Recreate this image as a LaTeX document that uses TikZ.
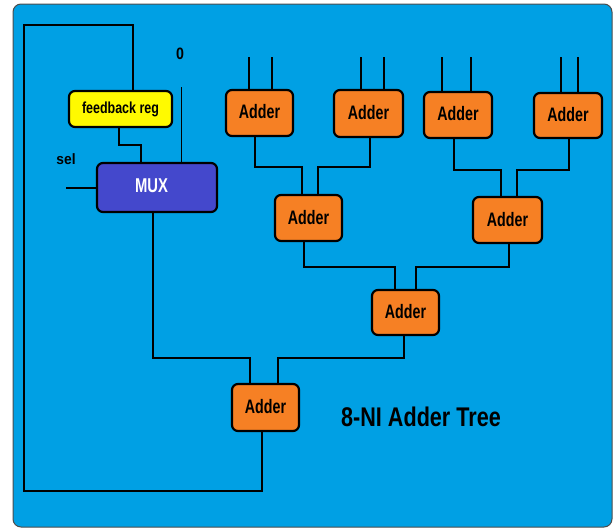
\documentclass[tikz,border=0pt]{standalone}
\usepackage{fontspec}
\setmainfont{Liberation Sans}
\usetikzlibrary{calc}
\definecolor{panelblue}{RGB}{0,160,228}
\definecolor{adderorange}{RGB}{246,128,36}
\definecolor{regyellow}{RGB}{255,250,0}
\definecolor{muxblue}{RGB}{68,72,204}
% condensed bold sans at a given size and horizontal stretch
\newcommand{\condfont}[2]{\fontsize{#1}{#1}\selectfont\bfseries\addfontfeatures{FakeStretch=#2}}
\begin{document}
\begin{tikzpicture}[x=1pt,y=-1pt,
  blk/.style={draw=black,line width=2.2pt,rounded corners=6pt,inner sep=0pt,outer sep=0pt},
  adder/.style={blk,fill=adderorange,minimum width=67pt,minimum height=46pt,font=\condfont{19.5}{0.73}},
  wire/.style={draw=black,line width=1.6pt},
  lbl/.style={inner sep=0pt}]
\useasboundingbox (0,0) rectangle (614,528);
% panel
\draw[fill=panelblue,draw=black!70,line width=1pt,rounded corners=8pt] (13,4) rectangle (612,527);

% blocks
\node[blk,fill=regyellow,minimum width=103pt,minimum height=36pt,font=\condfont{16}{0.78}] (fb) at (120.5,109) {feedback reg};
\node[blk,fill=muxblue,minimum width=120pt,minimum height=49pt] (mux) at (157,187.5) {};
\node[text=white,font=\condfont{20}{0.74},inner sep=0pt] (muxtext) at (151.5,185.5) {MUX};
\node[adder] (a1) at (259.5,113) {\raisebox{2.5pt}{Adder}};
\node[adder,minimum width=69pt,minimum height=47pt] (a2) at (368.5,113.5) {\raisebox{2.5pt}{Adder}};
\node[adder,minimum width=68pt] (a3) at (458,115) {\raisebox{2.5pt}{Adder}};
\node[adder,minimum width=68pt,minimum height=45pt] (a4) at (568,115.5) {\raisebox{2.5pt}{Adder}};
\node[adder] (b1) at (308.5,218) {\raisebox{1.5pt}{Adder}};
\node[adder,minimum width=69pt] (b2) at (507.5,220) {\raisebox{1.5pt}{Adder}};
\node[adder,minimum height=45pt] (c1) at (405.5,312.5) {\raisebox{1.5pt}{Adder}};
\node[adder,minimum height=47pt] (d1) at (265.5,407.5) {\raisebox{1.5pt}{Adder}};

% labels
\node[lbl,font=\condfont{16.5}{0.86}] (zero) at (180,54) {0};
\node[lbl,font=\condfont{15}{0.92}] (sel) at (66,159) {sel};
\node[lbl,font=\condfont{27}{0.8}] (title) at (421,417) {8-NI Adder Tree};

% free wire ends
\coordinate (i1) at (249,57);  \coordinate (i2) at (272,57);
\coordinate (i3) at (361,57);  \coordinate (i4) at (384,57);
\coordinate (i5) at (442,57);  \coordinate (i6) at (471,57);
\coordinate (i7) at (561,57);  \coordinate (i8) at (578,57);
\coordinate (zin) at (181.5,87);
\coordinate (sin) at (66,188);

% bends
\coordinate (j1) at (302,167);  \coordinate (j2) at (318,167);
\coordinate (j3) at (501,170);  \coordinate (j4) at (517,170);
\coordinate (j5) at (395,267);  \coordinate (j6) at (416,267);
\coordinate (j7) at (278,358);  \coordinate (j8) at (250,358);
\coordinate (j9) at (141,145);
\coordinate (k1) at (24,491);   \coordinate (k2) at (133,25);

% adder inputs
\foreach \i/\n in {i1/a1,i2/a1,i3/a2,i4/a2,i5/a3,i6/a3,i7/a4,i8/a4}
  \draw[wire] (\i) -- (\i |- \n.north);

% tree wiring
\draw[wire] ([xshift=-4.5pt]a1.south) |- (j1) -- (j1 |- b1.north);
\draw[wire] ([xshift=1.5pt]a2.south) |- (j2) -- (j2 |- b1.north);
\draw[wire] ([xshift=-4pt]a3.south) |- (j3) -- (j3 |- b2.north);
\draw[wire] ([xshift=1pt]a4.south) |- (j4) -- (j4 |- b2.north);
\draw[wire] ([xshift=-4.5pt]b1.south) |- (j5) -- (j5 |- c1.north);
\draw[wire] ([xshift=1.5pt]b2.south) |- (j6) -- (j6 |- c1.north);
\draw[wire] ([xshift=-1.5pt]c1.south) |- (j7) -- (j7 |- d1.north);
\draw[wire] ([xshift=-4pt]mux.south) |- (j8) -- (j8 |- d1.north);

% feedback path
\draw[wire] ([xshift=-3.5pt]d1.south) |- (k1) |- (k2) -- (k2 |- fb.north);
\draw[wire] ([xshift=-1.5pt]fb.south) |- (j9) -- (j9 |- mux.north);
\draw[wire] (zin) -- (zin |- mux.north);
\draw[wire] (sin) -- (sin -| mux.west);
\end{tikzpicture}
\end{document}
